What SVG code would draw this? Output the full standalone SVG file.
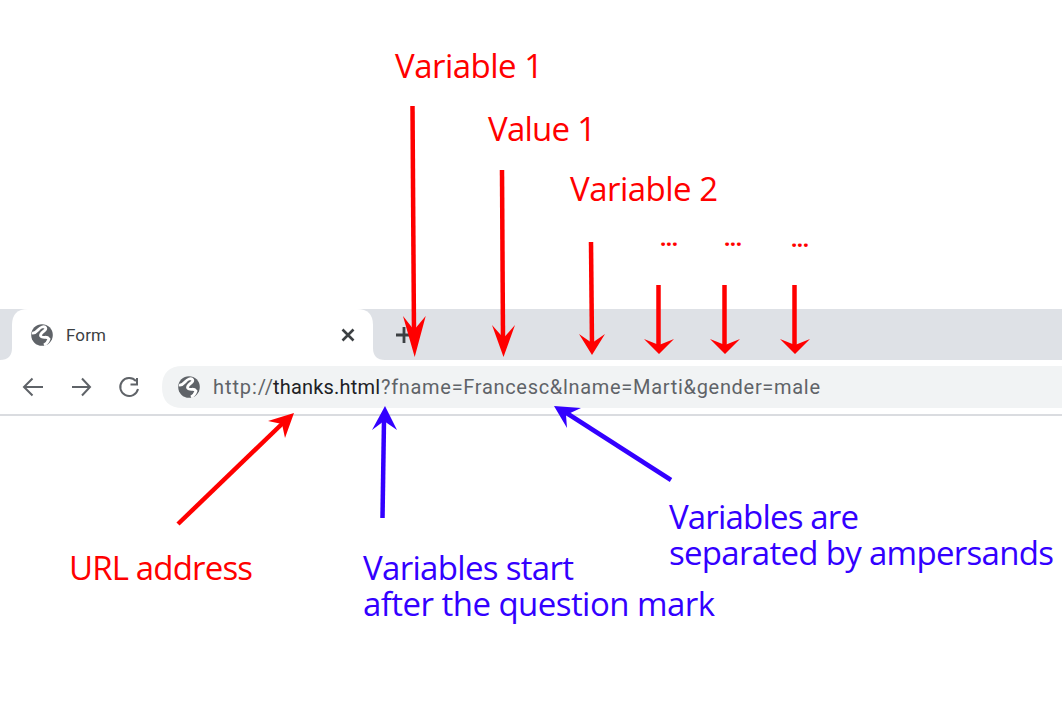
<svg xmlns="http://www.w3.org/2000/svg" width="1062" height="704" viewBox="0 0 1062 704">
<style>
.red{font-family:"Open Sans","Liberation Sans",sans-serif;font-size:33px;fill:#ff0000}
.blue{font-family:"Open Sans","Liberation Sans",sans-serif;font-size:33px;fill:#3300ff}
.dots{font-family:"Open Sans","Liberation Sans",sans-serif;font-size:22px;font-weight:bold;fill:#ff0000}
.url{font-family:Roboto,"Open Sans",sans-serif;font-size:20px;fill:#5f6368}
.rl{stroke:#ff0000;stroke-width:4.500;fill:none}
.bl{stroke:#3300ff;stroke-width:4.500;fill:none}
.rh{fill:#ff0000}
.bh{fill:#3300ff}
.ic{fill:none;stroke:#5f6368;stroke-width:2}
</style>
<defs>
<g id="globe"><circle r="10.800" fill="#5f6368"/><path d="M-10-2C-5-1-4-7 0-8 4-9 5-6 2-4-1-2-3 1 0 2 3 3 5 1 7 4 6 7 4 9 2 10" fill="none" stroke="#fff" stroke-width="2.800"/></g>
</defs>
<g id="browser">
<rect x="0" y="309" width="1062" height="51" fill="#dee1e6"/>
<path d="M0 360H1062V416H0Z" fill="#fff"/>
<path d="M12 360V325Q12 309 28 309H357Q373 309 373 325V360Z" fill="#fff"/>
<path d="M0 360Q12 360 12 348V360ZM373 348Q373 360 385 360H373Z" fill="#fff"/>
<use href="#globe" x="42" y="335"/>
<text x="66" y="341" font-family="Roboto,'Open Sans',sans-serif" font-size="17" fill="#3c4043" textLength="40">Form</text>
<path d="M342.500 329.500L353.500 340.500M353.500 329.500L342.500 340.500" stroke="#3c4043" stroke-width="2.600"/>
<path d="M396 335H412M404 327V343" stroke="#3c4043" stroke-width="2.800"/>
<path class="ic" d="M43 387H24M32.500 378.500L24 387L32.500 395.500"/>
<path class="ic" d="M72 387H90M82 378.500L90 387L82 395.500"/>
<path class="ic" d="M136 381A9 9 0 1 0 138 389M137 378V384.500H130.500"/>
<path d="M162 387Q162 366 183 366H1062V408H183Q162 408 162 387Z" fill="#f1f3f4"/>
<use href="#globe" x="189" y="387"/>
<rect x="0" y="414" width="1062" height="2" fill="#dadce0"/>
<text class="url" x="213" y="394" textLength="60">http://</text>
<text class="url" x="273" y="394" textLength="107" style="fill:#202124">thanks.html</text>
<text class="url" x="381" y="394" textLength="439">?fname=Francesc&amp;lname=Marti&amp;gender=male</text>
</g>
<g id="labels">
<text class="red" x="395" y="78" textLength="148">Variable 1</text>
<text class="red" x="488" y="141" textLength="108">Value 1</text>
<text class="red" x="570" y="201" textLength="148">Variable 2</text>
<text class="dots" x="660" y="246" textLength="18">...</text>
<text class="dots" x="724" y="246" textLength="18">...</text>
<text class="dots" x="791" y="247" textLength="18">...</text>
<text class="red" x="69" y="580" textLength="184">URL address</text>
<text class="blue" x="363" y="580" textLength="211">Variables start</text>
<text class="blue" x="363" y="616" textLength="352">after the question mark</text>
<text class="blue" x="669" y="529" textLength="190">Variables are</text>
<text class="blue" x="669" y="565" textLength="385">separated by ampersands</text>
</g>
<g id="connectors">
<path class="rl" d="M412.500 106L414 335"/><path class="rh" d="M414.700 357L403 316L414 330L425.700 316Z"/>
<path class="rl" d="M502 170L503 340"/><path class="rh" d="M503.500 357L492 325L503.500 338L515 325Z"/>
<path class="rl" d="M591 242L592 345"/><path class="rh" d="M592 355L579 334L592 343L605 334Z"/>
<path class="rl" d="M658.500 285V345"/><path class="rh" d="M659 354L644 339L659 345L674 339Z"/>
<path class="rl" d="M724.500 285V345"/><path class="rh" d="M725 354L710 339L725 345L740 339Z"/>
<path class="rl" d="M794.500 285V345"/><path class="rh" d="M795 354L780 339L795 345L810 339Z"/>
<path class="rl" d="M178 524L285 421"/><path class="rh" d="M294 413L268 421L282 424L285 438Z"/>
<path class="bl" d="M382.500 518L384 420"/><path class="bh" d="M385 406L372 430L384 421L397 430Z"/>
<path class="bl" d="M671 480L565 412"/><path class="bh" d="M554 406L567 428L566 415L581 408Z"/>
</g>
</svg>
